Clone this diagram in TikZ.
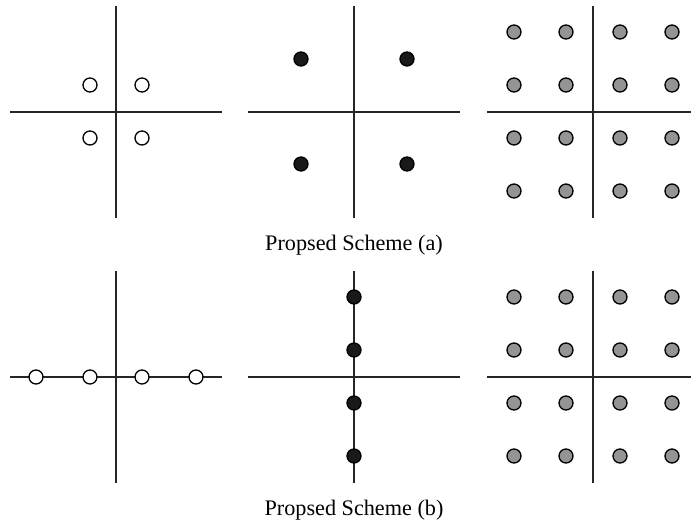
\documentclass[tikz,border=0pt]{standalone}
\usepackage{fontspec}
\setmainfont{Liberation Serif}
\usetikzlibrary{positioning}

\begin{document}
\begin{tikzpicture}[
    x=1pt, y=-1pt,
    axis/.style={line width=1.4pt, black!85},
    opendot/.style={circle, draw, line width=1.3pt, fill=white, minimum size=14pt, inner sep=0pt},
    fulldot/.style={circle, draw, line width=1.3pt, fill=black!90, minimum size=14pt, inner sep=0pt},
    greydot/.style={circle, draw, line width=1.3pt, fill=black!42, minimum size=14pt, inner sep=0pt},
    caption/.style={font=\fontsize{22.2}{26}\selectfont}
]
\useasboundingbox (0,0) rectangle (691,524);

% top row
\draw[axis] (116,6) -- (116,218);
\draw[axis] (10,112) -- (222,112);
\draw[axis] (354,6) -- (354,218);
\draw[axis] (248,112) -- (460,112);
\draw[axis] (593,6) -- (593,218);
\draw[axis] (487,112) -- (691,112);

\node[opendot] (a11) at (90,85) {};
\node[opendot] (a12) at (142,85) {};
\node[opendot] (a13) at (90,138) {};
\node[opendot] (a14) at (142,138) {};

\node[fulldot] (a21) at (301,59) {};
\node[fulldot] (a22) at (407,59) {};
\node[fulldot] (a23) at (301,164) {};
\node[fulldot] (a24) at (407,164) {};

\foreach \i/\x in {1/514,2/566,3/620,4/672}
  \foreach \j/\y in {1/32,2/85,3/138,4/191}
    \node[greydot] (a3\i\j) at (\x,\y) {};

\node[caption] (capa) at (354,245) {Propsed Scheme (a)};

% bottom row
\draw[axis] (116,271) -- (116,483);
\draw[axis] (10,377) -- (222,377);
\draw[axis] (354,271) -- (354,483);
\draw[axis] (248,377) -- (460,377);
\draw[axis] (593,271) -- (593,483);
\draw[axis] (487,377) -- (691,377);

\foreach \i/\x in {1/36,2/90,3/142,4/196}
  \node[opendot] (b1\i) at (\x,377) {};

\foreach \i/\y in {1/297,2/350,3/403,4/456}
  \node[fulldot] (b2\i) at (354,\y) {};

\foreach \i/\x in {1/514,2/566,3/620,4/672}
  \foreach \j/\y in {1/297,2/350,3/403,4/456}
    \node[greydot] (b3\i\j) at (\x,\y) {};

\node[caption] (capb) at (354,510) {Propsed Scheme (b)};
\end{tikzpicture}
\end{document}
